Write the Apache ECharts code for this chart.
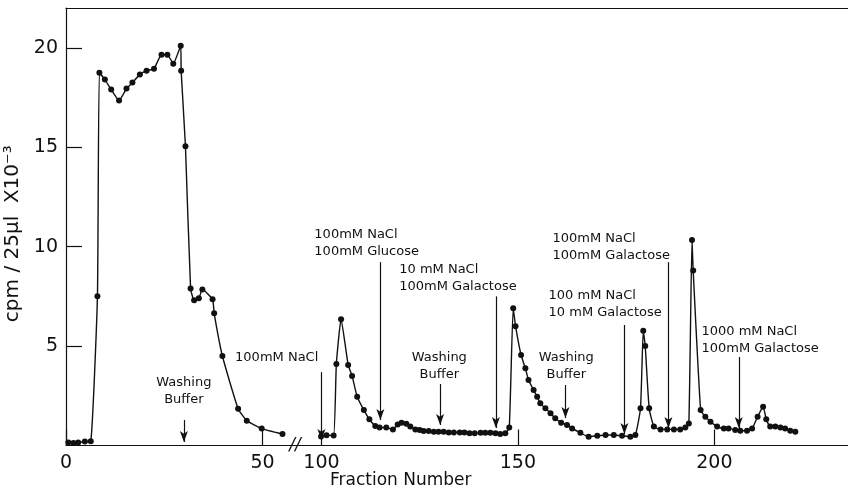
<!DOCTYPE html>
<html>
<head>
<meta charset="utf-8">
<script src="https://cdn.jsdelivr.net/npm/echarts@6/dist/echarts.min.js"></script>
<style>
html,body{margin:0;padding:0;background:#fff;}
#chart{width:848px;height:498px;}
</style>
</head>
<body>
<div id="chart"></div>
<script>
// ---- data (fraction number, cpm/25µl x10^-3) ----
const fractionsA = [0.6, 1.9, 3.1, 4.8, 6.3, 8.0, 8.5, 9.9, 11.5, 13.5, 15.4, 16.9, 18.8, 20.5, 22.4, 24.3, 25.8, 27.3, 29.2, 29.3, 30.4, 31.7, 32.6, 33.8, 34.7, 37.3, 37.7, 39.8, 43.8, 46.0, 49.8, 55.1];
const cpmA = [0.15, 0.12, 0.15, 0.2, 0.22, 7.5, 18.75, 18.4, 17.9, 17.35, 17.95, 18.25, 18.65, 18.85, 18.95, 19.65, 19.65, 19.2, 20.1, 18.85, 15.05, 7.9, 7.3, 7.4, 7.85, 7.35, 6.65, 4.5, 1.85, 1.25, 0.85, 0.58];

const fractionsB = [99.9, 101.3, 103.1, 103.8, 105.0, 106.8, 107.8, 109.1, 110.8, 112.2, 113.7, 114.8, 116.5, 118.2, 119.4, 120.4, 121.6, 122.6, 123.9, 125.0, 126.0, 127.3, 128.6, 129.8, 131.1, 132.4, 133.7, 135.2, 136.4, 137.7, 139.0, 140.5, 141.7, 143.0, 144.3, 145.5, 146.8, 147.8, 148.8, 149.4, 150.8, 151.9, 152.7, 154.0, 154.9, 155.7, 157.0, 158.3, 159.5, 161.0, 162.5, 163.8, 165.9, 168.0, 170.2, 172.3, 174.4, 176.5, 178.6, 179.9, 181.2, 181.9, 182.4, 183.4, 184.6, 186.3, 188.0, 189.7, 191.3, 192.6, 193.5, 194.3, 194.6, 196.5, 197.7, 199.0, 200.7, 202.4, 203.6, 205.3, 206.6, 208.3, 209.6, 211.0, 212.4, 213.2, 214.2, 215.5, 216.8, 218.0, 219.3, 220.6];
const cpmB = [0.45, 0.52, 0.5, 4.1, 6.35, 4.05, 3.5, 2.45, 1.78, 1.32, 0.98, 0.9, 0.9, 0.81, 1.05, 1.15, 1.1, 0.95, 0.81, 0.78, 0.73, 0.73, 0.69, 0.69, 0.69, 0.66, 0.66, 0.66, 0.66, 0.61, 0.61, 0.64, 0.64, 0.64, 0.61, 0.58, 0.61, 0.9, 6.9, 6.0, 4.55, 3.88, 3.29, 2.79, 2.45, 2.12, 1.87, 1.62, 1.37, 1.15, 1.03, 0.86, 0.64, 0.44, 0.49, 0.53, 0.53, 0.49, 0.44, 0.53, 1.87, 5.77, 5.0, 1.87, 0.95, 0.81, 0.81, 0.81, 0.81, 0.9, 1.11, 10.33, 8.8, 1.78, 1.45, 1.2, 0.95, 0.86, 0.86, 0.78, 0.74, 0.74, 0.86, 1.45, 1.95, 1.32, 0.95, 0.95, 0.9, 0.86, 0.74, 0.69];

const xTickLabels = [0, 50, 100, 150, 200];
const yTickLabels = [5, 10, 15, 20];

// annotations: text, arrow fraction, arrow top/bottom (cpm), text anchor (fraction, cpm), alignment
const annoText   = ['Washing\nBuffer', '100mM NaCl', '100mM NaCl\n100mM Glucose', 'Washing\nBuffer', '10 mM NaCl\n100mM Galactose', 'Washing\nBuffer', '100 mM NaCl\n10 mM Galactose', '100mM NaCl\n100mM Galactose', '1000 mM NaCl\n100mM Galactose'];
const annoArrowX = [30.0, 100.0, 115.0, 130.2, 144.4, 162.1, 177.1, 188.3, 206.2];
const annoTop    = [1.28, 3.69, 9.22, 3.09, 7.5, 3.04, 6.06, 9.22, 4.45];
const annoBottom = [0.18, 0.28, 1.28, 1.03, 0.88, 1.38, 0.58, 0.88, 0.88];
const annoTextX  = [30.0, 99.2, 98.2, 130.0, 119.8, 162.3, 157.8, 158.8, 196.7];
const annoTextY  = [2.75, 4.4, 10.2, 3.97, 8.4, 3.97, 7.09, 10.0, 5.28];
const annoAlign  = ['center', 'right', 'left', 'center', 'left', 'center', 'left', 'left', 'left'];

// broken axis: fractions above the break are drawn shifted left
const BREAK_AT = 75, BREAK_SHIFT = 35;
const toAxis = f => (f > BREAK_AT ? f - BREAK_SHIFT : f);
const fromAxis = v => (v > BREAK_AT - BREAK_SHIFT + 15 ? v + BREAK_SHIFT : v);

const FONT = 'DejaVu Sans';
const segA = fractionsA.map((f, i) => [toAxis(f), cpmA[i]]);
const segB = fractionsB.map((f, i) => [toAxis(f), cpmB[i]]);

const arrowLines = annoArrowX.map((f, i) => [
  { coord: [toAxis(f), annoTop[i]] },
  { coord: [toAxis(f), annoBottom[i]] }
]);
const annoPoints = annoText.map((t, i) => ({
  coord: [toAxis(annoTextX[i]), annoTextY[i]],
  symbol: 'circle', symbolSize: 0,
  label: {
    show: true, position: 'inside', formatter: t,
    align: annoAlign[i], verticalAlign: 'middle',
    color: '#111', fontFamily: FONT, fontSize: 13, lineHeight: 17
  }
}));
annoPoints.push({
  coord: [58.3, 0], symbol: 'circle', symbolSize: 0,
  label: { show: true, position: 'inside', formatter: '//', color: '#111', fontFamily: FONT, fontSize: 17, fontStyle: 'italic' }
});

const lineStyle = { color: '#111', width: 1.4 };
const chart = echarts.init(document.getElementById('chart'), null, { renderer: 'canvas' });
chart.setOption({
  animation: false,
  backgroundColor: '#fff',
  grid: { left: 66, right: 0, top: 8, bottom: 52.5, containLabel: false, outerBoundsMode: 'none' },
  title: {
    text: 'Fraction Number', left: 325, top: 467,
    textStyle: { fontFamily: FONT, fontSize: 17, fontWeight: 'normal', color: '#111' }
  },
  xAxis: [{
    type: 'value', min: 0, max: 199,
    axisLine: { lineStyle: { color: '#111', width: 1.2 } },
    axisTick: { inside: true, length: 16, customValues: xTickLabels.map(toAxis), lineStyle: { color: '#111', width: 1.2 } },
    axisLabel: { customValues: xTickLabels.map(toAxis), formatter: v => String(Math.round(fromAxis(v))), fontFamily: FONT, fontSize: 19, color: '#111', margin: 8 },
    splitLine: { show: false }
  }, {
    type: 'value', min: 0, max: 199, position: 'top',
    axisLine: { lineStyle: { color: '#111', width: 1.2 } },
    axisTick: { show: false }, axisLabel: { show: false }, splitLine: { show: false }
  }],
  yAxis: {
    type: 'value', min: 0, max: 22,
    name: 'cpm / 25µl  X10⁻³', nameLocation: 'middle', nameGap: 38, nameRotate: 90,
    nameTextStyle: { fontFamily: FONT, fontSize: 20, color: '#111', padding: [0, 14, 0, 0] },
    axisLine: { show: true, lineStyle: { color: '#111', width: 1.2 } },
    axisTick: { inside: true, length: 16, customValues: yTickLabels, lineStyle: { color: '#111', width: 1.2 } },
    axisLabel: { customValues: yTickLabels, fontFamily: FONT, fontSize: 19, color: '#111', margin: 8 },
    splitLine: { show: false }
  },
  series: [{
    type: 'line', data: segA, symbol: 'circle', symbolSize: 6,
    itemStyle: { color: '#111' }, lineStyle: lineStyle, smooth: 0.15
  }, {
    type: 'line', data: segB, symbol: 'circle', symbolSize: 6,
    itemStyle: { color: '#111' }, lineStyle: lineStyle, smooth: 0.15,
    markLine: {
      silent: true, symbol: ['none', 'arrow'], symbolSize: [6, 11],
      lineStyle: { color: '#111', width: 1.2, type: 'solid' },
      itemStyle: { color: '#111' },
      label: { show: false }, data: arrowLines
    },
    markPoint: { silent: true, data: annoPoints }
  }]
});
</script>
</body>
</html>
